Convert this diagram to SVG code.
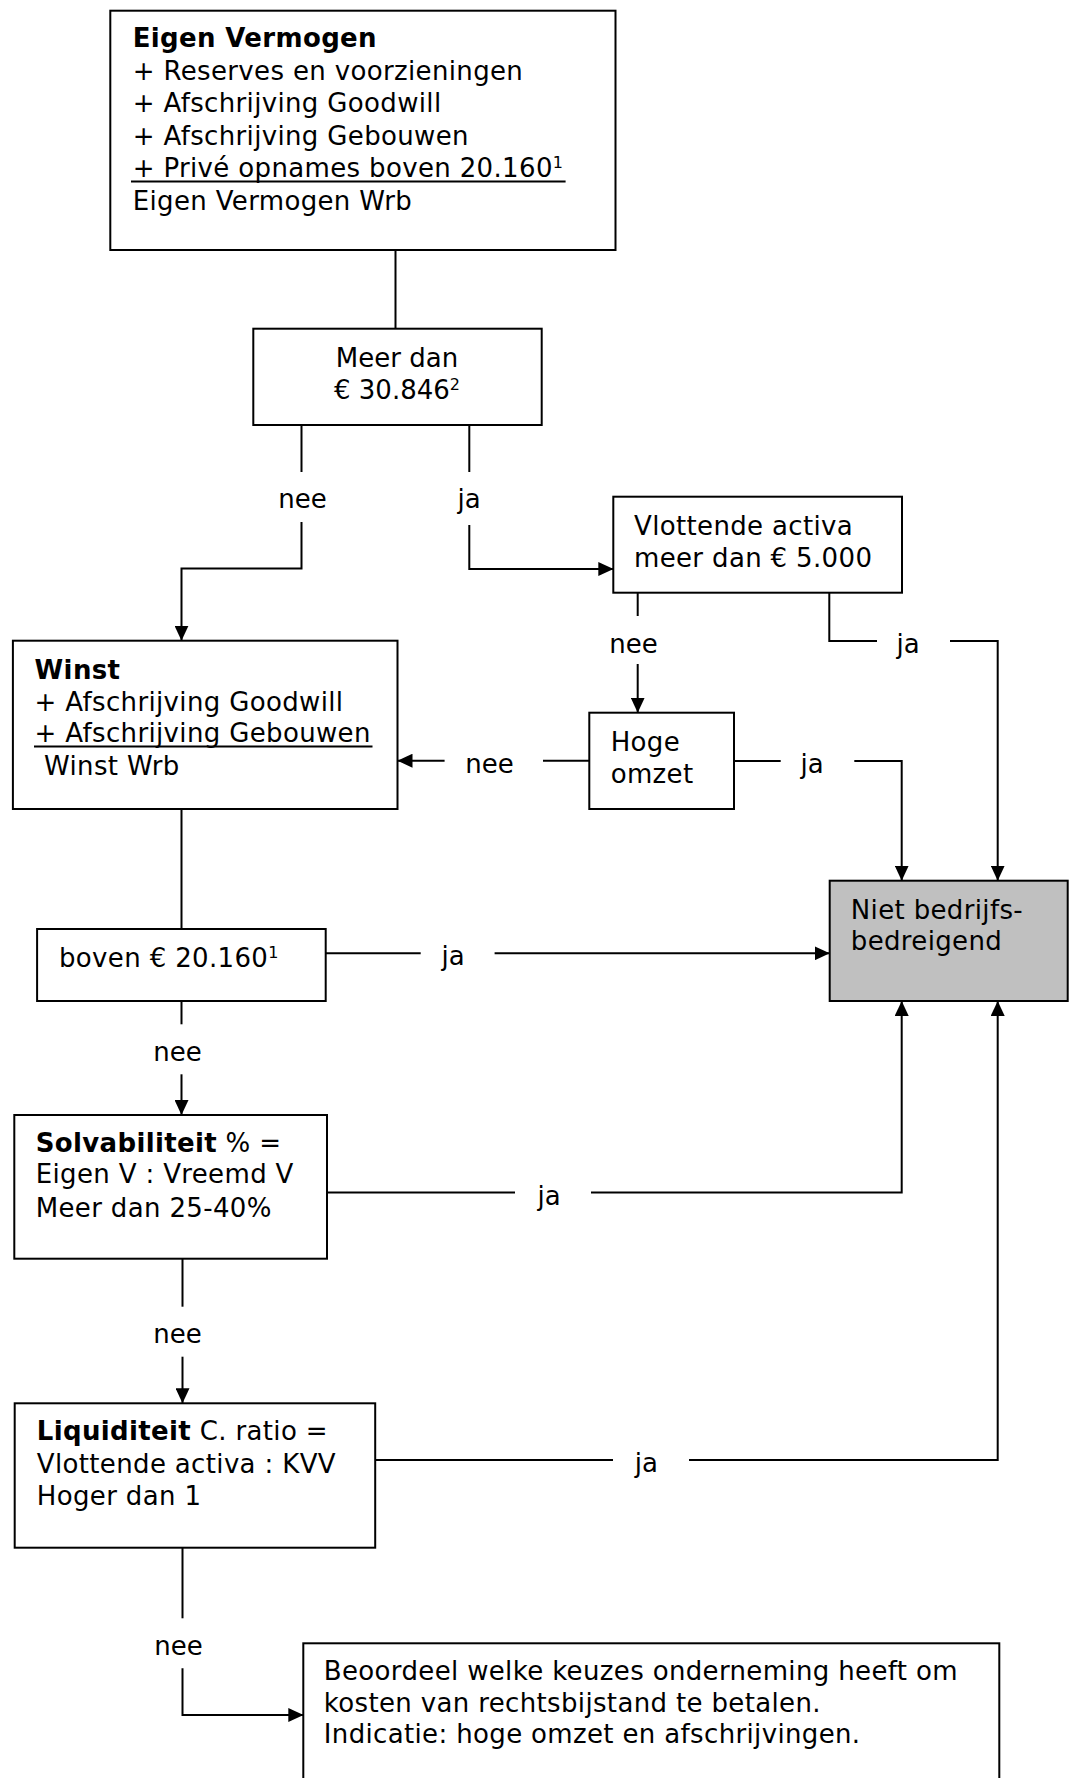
<svg xmlns="http://www.w3.org/2000/svg" width="1069" height="1778" viewBox="0 0 1069 1778">
<style>
.box{fill:#fff;stroke:#000;stroke-width:2}
.grey{fill:#c0c0c0}
.t{font-family:"DejaVu Sans",Verdana,"Liberation Sans",sans-serif;font-size:26px;letter-spacing:0.35px;fill:#000}
.b{font-weight:bold}
.lbl{font-family:"DejaVu Sans",Verdana,"Liberation Sans",sans-serif;font-size:26px;fill:#000;text-anchor:middle}
.c{fill:none;stroke:#000;stroke-width:2}
.ul{stroke:#000;stroke-width:2}
.sup{font-size:16px}
</style>
<defs>
<marker id="arr" markerUnits="userSpaceOnUse" markerWidth="15" markerHeight="14" viewBox="0 0 15 14" refX="15" refY="7" orient="auto">
<path d="M0,0 L15,7 L0,14 z" fill="#000"/>
</marker>
</defs>
<rect width="1069" height="1778" fill="#fff"/>

<g id="connectors">
<path class="c" d="M395.5,250 V329"/>
<path class="c" d="M301.5,425 V472"/>
<path class="c" d="M301.5,522 V568.5 H181.5 V640.7" marker-end="url(#arr)"/>
<path class="c" d="M469.3,425 V472"/>
<path class="c" d="M469.3,525 V569 H613.3" marker-end="url(#arr)"/>
<path class="c" d="M637.7,593 V616"/>
<path class="c" d="M637.7,664 V712.7" marker-end="url(#arr)"/>
<path class="c" d="M829.3,593 V641 H877"/>
<path class="c" d="M950,641 H997.7 V880.7" marker-end="url(#arr)"/>
<path class="c" d="M589.3,760.7 H543"/>
<path class="c" d="M444.6,760.7 H397.5" marker-end="url(#arr)"/>
<path class="c" d="M734,761 H780.7"/>
<path class="c" d="M854.3,761 H901.7 V880.7" marker-end="url(#arr)"/>
<path class="c" d="M181.5,809 V929"/>
<path class="c" d="M325.7,953.3 H420.7"/>
<path class="c" d="M494.6,953.3 H829.7" marker-end="url(#arr)"/>
<path class="c" d="M181.5,1001 V1024.3"/>
<path class="c" d="M181.5,1074.3 V1115" marker-end="url(#arr)"/>
<path class="c" d="M327,1192.5 H515"/>
<path class="c" d="M591,1192.5 H901.7 V1001" marker-end="url(#arr)"/>
<path class="c" d="M182.5,1258.7 V1306.7"/>
<path class="c" d="M182.5,1356.7 V1403.3" marker-end="url(#arr)"/>
<path class="c" d="M375.2,1460 H613"/>
<path class="c" d="M689,1460 H997.7 V1001" marker-end="url(#arr)"/>
<path class="c" d="M182.5,1547.7 V1618.3"/>
<path class="c" d="M182.5,1668.3 V1715 H303.3" marker-end="url(#arr)"/>
<text class="lbl" x="302.5" y="508">nee</text>
<text class="lbl" x="469" y="508">ja</text>
<text class="lbl" x="633.5" y="653">nee</text>
<text class="lbl" x="908" y="653">ja</text>
<text class="lbl" x="489.5" y="773">nee</text>
<text class="lbl" x="812" y="773">ja</text>
<text class="lbl" x="453" y="965">ja</text>
<text class="lbl" x="177.5" y="1061">nee</text>
<text class="lbl" x="549" y="1205">ja</text>
<text class="lbl" x="177.5" y="1343">nee</text>
<text class="lbl" x="646.4" y="1472">ja</text>
<text class="lbl" x="178.6" y="1655">nee</text>
</g>

<g id="eigen-vermogen">
<rect class="box" x="110.3" y="10.7" width="505.2" height="239.3"/>
<text class="t b" x="132.7" y="47">Eigen Vermogen</text>
<text class="t" x="132.7" y="80">+ Reserves en voorzieningen</text>
<text class="t" x="132.7" y="112">+ Afschrijving Goodwill</text>
<text class="t" x="132.7" y="145">+ Afschrijving Gebouwen</text>
<text class="t" x="132.7" y="177">+ Privé opnames boven 20.160<tspan class="sup" dy="-9">1</tspan></text>
<line class="ul" x1="131" y1="181.5" x2="565.6" y2="181.5"/>
<text class="t" x="132.7" y="210">Eigen Vermogen Wrb</text>
</g>

<g id="meer-dan">
<rect class="box" x="253.3" y="328.7" width="288.4" height="96.3"/>
<text class="lbl" x="397" y="367">Meer dan</text>
<text class="lbl" x="397" y="399">€ 30.846<tspan class="sup" dy="-9">2</tspan></text>
</g>

<g id="vlottende-activa">
<rect class="box" x="613.3" y="496.7" width="288.7" height="96"/>
<text class="t" x="634" y="535">Vlottende activa</text>
<text class="t" x="634" y="567.3">meer dan € 5.000</text>
</g>

<g id="hoge-omzet">
<rect class="box" x="589.3" y="712.7" width="144.7" height="96.3"/>
<text class="t" x="610.7" y="750.7">Hoge</text>
<text class="t" x="610.7" y="782.7">omzet</text>
</g>

<g id="niet-bedrijfsbedreigend">
<rect class="box grey" x="829.7" y="880.7" width="238" height="120.3"/>
<text class="t" x="850.8" y="919">Niet bedrijfs-</text>
<text class="t" x="850.8" y="950">bedreigend</text>
</g>

<g id="winst">
<rect class="box" x="12.9" y="640.7" width="384.6" height="168.3"/>
<text class="t b" x="34.6" y="679">Winst</text>
<text class="t" x="34.6" y="710.7">+ Afschrijving Goodwill</text>
<text class="t" x="34.6" y="742.3">+ Afschrijving Gebouwen</text>
<line class="ul" x1="34" y1="746.5" x2="372.5" y2="746.5"/>
<text class="t" x="44" y="775">Winst Wrb</text>
</g>

<g id="boven">
<rect class="box" x="37.1" y="929" width="288.6" height="72"/>
<text class="t" x="59" y="966.7">boven € 20.160<tspan class="sup" dy="-9">1</tspan></text>
</g>

<g id="solvabiliteit">
<rect class="box" x="14.3" y="1115" width="312.7" height="143.7"/>
<text class="t" x="35.7" y="1151.7"><tspan class="b">Solvabiliteit</tspan> % =</text>
<text class="t" x="35.7" y="1183.3">Eigen V : Vreemd V</text>
<text class="t" x="35.7" y="1216.7">Meer dan 25-40%</text>
</g>

<g id="liquiditeit">
<rect class="box" x="14.7" y="1403.3" width="360.5" height="144.4"/>
<text class="t" x="36.8" y="1440"><tspan class="b">Liquiditeit</tspan> C. ratio =</text>
<text class="t" x="36.8" y="1473.3">Vlottende activa : KVV</text>
<text class="t" x="36.8" y="1505">Hoger dan 1</text>
</g>

<g id="beoordeel">
<rect class="box" x="303.3" y="1643.3" width="696" height="150"/>
<text class="t" x="323.8" y="1680">Beoordeel welke keuzes onderneming heeft om</text>
<text class="t" x="323.8" y="1711.7">kosten van rechtsbijstand te betalen.</text>
<text class="t" x="323.8" y="1743.3">Indicatie: hoge omzet en afschrijvingen.</text>
</g>
</svg>
